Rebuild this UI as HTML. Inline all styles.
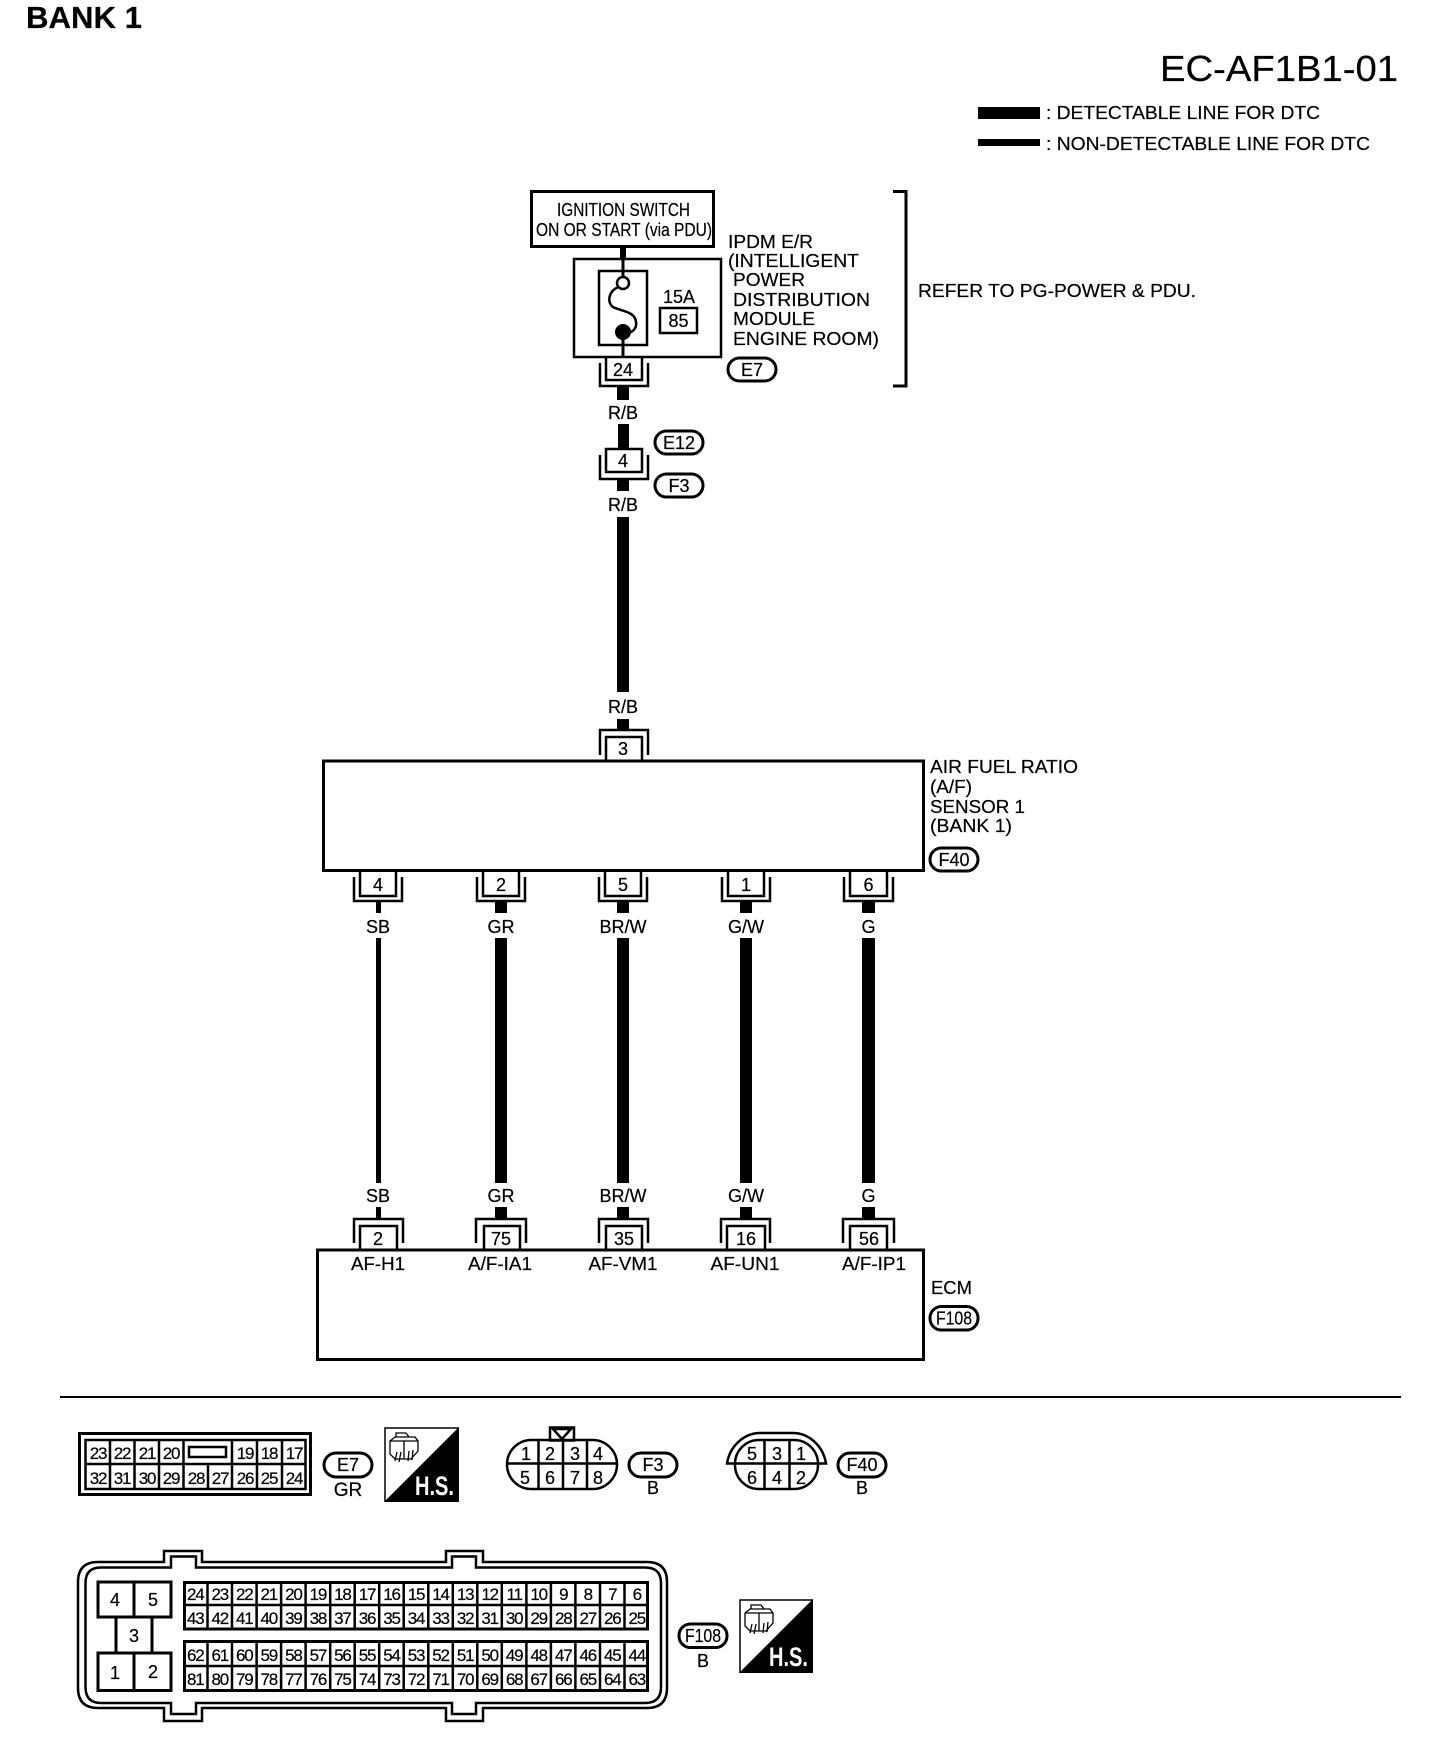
<!DOCTYPE html>
<html lang="en">
<head>
<meta charset="utf-8">
<title>BANK 1 EC-AF1B1-01</title>
<style>
html,body{margin:0;padding:0;background:#fff;width:1440px;height:1764px;overflow:hidden}
svg{display:block}
text{font-family:"Liberation Sans",sans-serif;font-size:18px;fill:#000;stroke:#000;stroke-width:.2px}
.m{text-anchor:middle}
.n{text-anchor:middle;font-size:17px;letter-spacing:-1.2px}
.s{fill:none;stroke:#000;stroke-width:2.5}
.p{fill:#fff;stroke:#000;stroke-width:3}
.w{fill:#000}
.h{font-size:27px;font-weight:bold;fill:#fff;stroke:none}
</style>
</head>
<body>
<svg xmlns="http://www.w3.org/2000/svg" width="1440" height="1764" viewBox="0 0 1440 1764">
<rect width="1440" height="1764" fill="#fff"/>

<!-- Titles and legend -->
<text x="26" y="28" style="font-size:31px;font-weight:bold" textLength="116" lengthAdjust="spacingAndGlyphs">BANK 1</text>
<text x="1160" y="81" style="font-size:36px" textLength="238" lengthAdjust="spacingAndGlyphs">EC-AF1B1-01</text>
<rect class="w" x="978" y="107" width="62" height="12"/>
<rect class="w" x="978" y="139" width="62" height="7"/>
<text x="1046" y="119" textLength="274" lengthAdjust="spacingAndGlyphs">: DETECTABLE LINE FOR DTC</text>
<text x="1046" y="150" textLength="324" lengthAdjust="spacingAndGlyphs">: NON-DETECTABLE LINE FOR DTC</text>

<!-- Ignition switch -->
<rect x="531.500" y="191.500" width="182" height="55" fill="#fff" stroke="#000" stroke-width="3"/>
<text x="557" y="216" textLength="133" lengthAdjust="spacingAndGlyphs">IGNITION SWITCH</text>
<text x="536" y="236" textLength="176" lengthAdjust="spacingAndGlyphs">ON OR START (via PDU)</text>
<rect class="w" x="620" y="248" width="6" height="11"/>

<!-- IPDM -->
<rect class="s" x="574" y="259" width="147" height="98" style="fill:#fff"/>
<rect class="s" x="599" y="271" width="48" height="74"/>
<rect class="w" x="621.500" y="258" width="3" height="20"/>
<circle cx="623" cy="283" r="6" fill="#fff" stroke="#000" stroke-width="2.500"/>
<path class="s" d="M618.500 287 C608 291,607 303,613 307 C620 311,635 311,636 322 C637 328,633 332,628 333"/>
<circle cx="623" cy="332" r="8" fill="#000"/>
<rect class="w" x="621.500" y="332" width="3" height="26"/>
<text class="m" x="679" y="303">15A</text>
<rect class="s" x="660" y="308" width="37" height="25"/>
<text class="m" x="678.500" y="327">85</text>
<text x="728" y="248" textLength="85" lengthAdjust="spacingAndGlyphs">IPDM E/R</text>
<text x="728" y="267" textLength="131" lengthAdjust="spacingAndGlyphs">(INTELLIGENT</text>
<text x="733" y="286" textLength="72" lengthAdjust="spacingAndGlyphs">POWER</text>
<text x="733" y="306" textLength="137" lengthAdjust="spacingAndGlyphs">DISTRIBUTION</text>
<text x="733" y="325" textLength="82" lengthAdjust="spacingAndGlyphs">MODULE</text>
<text x="733" y="345" textLength="146" lengthAdjust="spacingAndGlyphs">ENGINE ROOM)</text>

<!-- Bracket -->
<path d="M893 191.500 H906 V386 H893" fill="none" stroke="#000" stroke-width="3"/>
<text x="918" y="297" textLength="278" lengthAdjust="spacingAndGlyphs">REFER TO PG-POWER &amp; PDU.</text>

<!-- Connector 24 -->
<path class="s" d="M606 357 V380 H642 V357"/>
<path class="s" d="M600 363 V386 H648 V363"/>
<text class="m" x="623" y="376">24</text>
<rect class="p" x="728" y="358" width="48" height="23" rx="11.500"/>
<text class="m" x="752" y="376">E7</text>
<rect class="w" x="617" y="387" width="12" height="13"/>
<text class="m" x="623" y="419">R/B</text>
<rect class="w" x="618" y="424" width="11" height="24"/>

<!-- Connector 4 -->
<rect class="s" x="606" y="449" width="36" height="23"/>
<path class="s" d="M600 455 V479 H648 V455"/>
<text class="m" x="623" y="467">4</text>
<rect class="p" x="655" y="431" width="48" height="23" rx="11.500"/>
<text class="m" x="679" y="449">E12</text>
<rect class="p" x="655" y="474" width="48" height="23" rx="11.500"/>
<text class="m" x="679" y="492">F3</text>
<rect class="w" x="617" y="480" width="12" height="11"/>
<text class="m" x="623" y="511">R/B</text>
<rect class="w" x="617" y="517" width="12" height="175"/>
<text class="m" x="623" y="713">R/B</text>
<rect class="w" x="617" y="719" width="12" height="10"/>

<!-- Connector 3 -->
<path class="s" d="M600 755 V730 H648 V755"/>
<path class="s" d="M606 761 V737 H642 V761"/>
<text class="m" x="623" y="755">3</text>

<!-- Sensor -->
<rect x="323.500" y="761" width="600" height="109.500" fill="none" stroke="#000" stroke-width="3"/>
<text x="930" y="773" textLength="148" lengthAdjust="spacingAndGlyphs">AIR FUEL RATIO</text>
<text x="930" y="793" textLength="42" lengthAdjust="spacingAndGlyphs">(A/F)</text>
<text x="930" y="813" textLength="95" lengthAdjust="spacingAndGlyphs">SENSOR 1</text>
<text x="930" y="832" textLength="82" lengthAdjust="spacingAndGlyphs">(BANK 1)</text>
<rect class="p" x="930" y="848" width="48" height="23" rx="11.500"/>
<text class="m" x="954" y="866">F40</text>

<!-- Sensor lower connectors -->
<path class="s" d="M360 871 V896 H396 V871"/><path class="s" d="M354 877 V901 H402 V877"/>
<path class="s" d="M483 871 V896 H519 V871"/><path class="s" d="M477 877 V901 H525 V877"/>
<path class="s" d="M605 871 V896 H641 V871"/><path class="s" d="M599 877 V901 H647 V877"/>
<path class="s" d="M728 871 V896 H764 V871"/><path class="s" d="M722 877 V901 H770 V877"/>
<path class="s" d="M850 871 V896 H887 V871"/><path class="s" d="M844 877 V901 H893 V877"/>
<text class="m" x="378" y="891">4</text>
<text class="m" x="501" y="891">2</text>
<text class="m" x="623" y="891">5</text>
<text class="m" x="746" y="891">1</text>
<text class="m" x="868.500" y="891">6</text>

<!-- Wires -->
<rect class="w" x="376" y="902" width="5" height="11"/>
<rect class="w" x="495" y="902" width="12" height="11"/>
<rect class="w" x="617" y="902" width="12" height="11"/>
<rect class="w" x="740" y="902" width="12" height="11"/>
<rect class="w" x="862" y="902" width="13" height="11"/>
<text class="m" x="378" y="933">SB</text>
<text class="m" x="501" y="933">GR</text>
<text class="m" x="623" y="933">BR/W</text>
<text class="m" x="746" y="933">G/W</text>
<text class="m" x="868.500" y="933">G</text>
<rect class="w" x="376" y="938" width="5" height="245"/>
<rect class="w" x="495" y="938" width="12" height="245"/>
<rect class="w" x="617" y="938" width="12" height="245"/>
<rect class="w" x="740" y="938" width="12" height="245"/>
<rect class="w" x="862" y="938" width="13" height="245"/>
<text class="m" x="378" y="1202">SB</text>
<text class="m" x="501" y="1202">GR</text>
<text class="m" x="623" y="1202">BR/W</text>
<text class="m" x="746" y="1202">G/W</text>
<text class="m" x="868.500" y="1202">G</text>
<rect class="w" x="376" y="1207" width="5" height="11"/>
<rect class="w" x="495" y="1207" width="12" height="11"/>
<rect class="w" x="617" y="1207" width="12" height="11"/>
<rect class="w" x="740" y="1207" width="12" height="11"/>
<rect class="w" x="862" y="1207" width="13" height="11"/>

<!-- ECM connectors -->
<path class="s" d="M354 1243 V1219 H403 V1243"/><path class="s" d="M360 1250 V1226 H397 V1250"/>
<path class="s" d="M476 1243 V1219 H526 V1243"/><path class="s" d="M484 1250 V1226 H520 V1250"/>
<path class="s" d="M599 1243 V1219 H648 V1243"/><path class="s" d="M606 1250 V1226 H642 V1250"/>
<path class="s" d="M721 1243 V1219 H770 V1243"/><path class="s" d="M727 1250 V1226 H765 V1250"/>
<path class="s" d="M843 1243 V1219 H894 V1243"/><path class="s" d="M850 1250 V1226 H887 V1250"/>
<text class="m" x="378" y="1245">2</text>
<text class="m" x="501" y="1245">75</text>
<text class="m" x="624" y="1245">35</text>
<text class="m" x="746" y="1245">16</text>
<text class="m" x="869" y="1245">56</text>

<!-- ECM -->
<rect x="317.500" y="1250" width="606" height="109.500" fill="none" stroke="#000" stroke-width="3"/>
<text class="m" x="378" y="1270" textLength="54" lengthAdjust="spacingAndGlyphs">AF-H1</text>
<text class="m" x="500" y="1270" textLength="64" lengthAdjust="spacingAndGlyphs">A/F-IA1</text>
<text class="m" x="623" y="1270" textLength="69" lengthAdjust="spacingAndGlyphs">AF-VM1</text>
<text class="m" x="745" y="1270" textLength="69" lengthAdjust="spacingAndGlyphs">AF-UN1</text>
<text class="m" x="874" y="1270" textLength="64" lengthAdjust="spacingAndGlyphs">A/F-IP1</text>
<text x="931" y="1294" textLength="41" lengthAdjust="spacingAndGlyphs">ECM</text>
<rect class="p" x="930" y="1306.500" width="48" height="23.500" rx="11.500"/>
<text class="m" x="954" y="1324.500" textLength="36" lengthAdjust="spacingAndGlyphs">F108</text>

<!-- Separator -->
<rect class="w" x="60" y="1396" width="1341" height="2"/>

<!-- E7 connector -->
<rect x="79.500" y="1433.500" width="231" height="61" fill="none" stroke="#000" stroke-width="3"/>
<rect x="85.500" y="1440" width="220" height="49" fill="none" stroke="#000" stroke-width="2.500"/>
<path d="M85 1464 H306 M110 1440 V1489 M134.500 1440 V1489 M159 1440 V1489 M183.500 1440 V1489 M232 1440 V1489 M257 1440 V1489 M282 1440 V1489 M208 1464 V1489" fill="none" stroke="#000" stroke-width="2.500"/>
<rect x="189" y="1447" width="37" height="10" fill="none" stroke="#000" stroke-width="2.500"/>
<text class="n" x="98" y="1459">23</text><text class="n" x="122" y="1459">22</text><text class="n" x="147" y="1459">21</text><text class="n" x="171" y="1459">20</text><text class="n" x="245" y="1459">19</text><text class="n" x="269" y="1459">18</text><text class="n" x="294" y="1459">17</text>
<text class="n" x="98" y="1484">32</text><text class="n" x="122" y="1484">31</text><text class="n" x="147" y="1484">30</text><text class="n" x="171" y="1484">29</text><text class="n" x="196" y="1484">28</text><text class="n" x="220" y="1484">27</text><text class="n" x="245" y="1484">26</text><text class="n" x="269" y="1484">25</text><text class="n" x="294" y="1484">24</text>
<rect class="p" x="324" y="1453" width="48" height="24" rx="12"/>
<text class="m" x="348" y="1471">E7</text>
<text class="m" x="348" y="1496" style="font-size:19px">GR</text>

<!-- H.S. icon 1 -->
<rect x="385" y="1428" width="73" height="73" fill="#fff" stroke="#000" stroke-width="1.500"/>
<polygon points="459,1427 459,1502 384,1502" fill="#000"/>
<path d="M390 1441 L395 1437 H415 L418 1441 V1451 L411 1459 H395 L390 1454 Z M390 1441 H418 M404 1441 V1459 M396 1437 V1433 H406 L409 1437 M397 1452 L395 1461 M401 1452 L399 1462 M409 1451 L408 1461 M413 1450 L412 1460" fill="none" stroke="#000" stroke-width="1.300"/>
<text class="h" x="415" y="1495" textLength="39" lengthAdjust="spacingAndGlyphs">H.S.</text>

<!-- F3 connector -->
<rect x="550" y="1427.500" width="24" height="13" fill="#fff" stroke="#000" stroke-width="2.500"/>
<polygon points="553,1429 571,1429 562,1439" fill="#fff" stroke="#000" stroke-width="2.500"/>
<rect x="507" y="1440" width="110" height="49" rx="24.500" fill="none" stroke="#000" stroke-width="2.500"/>
<path d="M507 1463.500 H617 M538.500 1440 V1489 M563 1440 V1489 M587 1440 V1489" fill="none" stroke="#000" stroke-width="2.500"/>
<text class="m" x="526" y="1460">1</text><text class="m" x="550" y="1460">2</text><text class="m" x="575" y="1460">3</text><text class="m" x="598" y="1460">4</text>
<text class="m" x="525" y="1484">5</text><text class="m" x="550" y="1484">6</text><text class="m" x="575" y="1484">7</text><text class="m" x="598" y="1484">8</text>
<rect class="p" x="629" y="1453" width="48" height="24" rx="12"/>
<text class="m" x="653" y="1471">F3</text>
<text class="m" x="653" y="1494">B</text>

<!-- F40 connector -->
<path d="M727 1463.500 C730 1445,745 1433,760 1433 H793 C808 1433,823 1445,826 1463.500 Z" fill="none" stroke="#000" stroke-width="2.500"/>
<rect x="735" y="1440" width="83" height="49" rx="24" fill="#fff" stroke="#000" stroke-width="2.500"/>
<path d="M735 1463.500 H818 M764.500 1440 V1489 M789.500 1440 V1489" fill="none" stroke="#000" stroke-width="2.500"/>
<text class="m" x="752" y="1460">5</text><text class="m" x="777" y="1460">3</text><text class="m" x="801" y="1460">1</text>
<text class="m" x="752" y="1484">6</text><text class="m" x="777" y="1484">4</text><text class="m" x="801" y="1484">2</text>
<rect class="p" x="838" y="1453" width="48" height="24" rx="12"/>
<text class="m" x="862" y="1471">F40</text>
<text class="m" x="862" y="1494">B</text>

<!-- F108 (ECM) connector -->
<path d="M98 1562 H164 V1551 H202 V1562 H446 V1551 H483 V1562 H647 Q667 1562 667 1582 V1688 Q667 1708 647 1708 H483 V1721 H446 V1708 H202 V1721 H164 V1708 H98 Q78 1708 78 1688 V1582 Q78 1562 98 1562 Z" fill="none" stroke="#000" stroke-width="2.500"/>
<path d="M101 1567.500 H171 V1556.500 H196 V1567.500 H452 V1556.500 H476 V1567.500 H645 Q661 1567.500 661 1583 V1687 Q661 1703 645 1703 H476 V1714 H452 V1703 H196 V1714 H171 V1703 H101 Q85.500 1703 85.500 1687 V1583 Q85.500 1567.500 101 1567.500 Z" fill="none" stroke="#000" stroke-width="2.500"/>
<path d="M98 1582 H171 V1617 H98 Z M134 1582 V1617 M98 1653 H171 V1690.500 H98 Z M134 1653 V1690.500 M116 1617 V1653 M152 1617 V1653" fill="none" stroke="#000" stroke-width="3"/>
<text class="m" x="115" y="1606">4</text><text class="m" x="153" y="1606">5</text><text class="m" x="134" y="1642">3</text><text class="m" x="115" y="1679">1</text><text class="m" x="153" y="1678">2</text>

<rect x="184.500" y="1582.500" width="463" height="46.500" fill="none" stroke="#000" stroke-width="3"/>
<rect x="184.500" y="1641.500" width="463" height="49" fill="none" stroke="#000" stroke-width="3"/>
<path d="M184 1605 H648 M184 1666 H648 M207.500 1582 V1629 M232 1582 V1629 M256.600 1582 V1629 M281.100 1582 V1629 M305.600 1582 V1629 M330.200 1582 V1629 M354.700 1582 V1629 M379.200 1582 V1629 M403.700 1582 V1629 M428.300 1582 V1629 M452.800 1582 V1629 M477.300 1582 V1629 M501.800 1582 V1629 M526.400 1582 V1629 M550.900 1582 V1629 M575.400 1582 V1629 M600 1582 V1629 M624.500 1582 V1629 M207.500 1641 V1691 M232 1641 V1691 M256.600 1641 V1691 M281.100 1641 V1691 M305.600 1641 V1691 M330.200 1641 V1691 M354.700 1641 V1691 M379.200 1641 V1691 M403.700 1641 V1691 M428.300 1641 V1691 M452.800 1641 V1691 M477.300 1641 V1691 M501.800 1641 V1691 M526.400 1641 V1691 M550.900 1641 V1691 M575.400 1641 V1691 M600 1641 V1691 M624.500 1641 V1691" fill="none" stroke="#000" stroke-width="2.500"/>

<g>
<text class="n" x="195.300" y="1600">24</text><text class="n" x="219.800" y="1600">23</text><text class="n" x="244.300" y="1600">22</text><text class="n" x="268.800" y="1600">21</text><text class="n" x="293.400" y="1600">20</text><text class="n" x="317.900" y="1600">19</text><text class="n" x="342.400" y="1600">18</text><text class="n" x="367" y="1600">17</text><text class="n" x="391.500" y="1600">16</text><text class="n" x="416" y="1600">15</text><text class="n" x="440.500" y="1600">14</text><text class="n" x="465.100" y="1600">13</text><text class="n" x="489.600" y="1600">12</text><text class="n" x="514.100" y="1600">11</text><text class="n" x="538.600" y="1600">10</text><text class="n" x="563.200" y="1600">9</text><text class="n" x="587.700" y="1600">8</text><text class="n" x="612.200" y="1600">7</text><text class="n" x="636.800" y="1600">6</text>
</g>
<g>
<text class="n" x="195.300" y="1624">43</text><text class="n" x="219.800" y="1624">42</text><text class="n" x="244.300" y="1624">41</text><text class="n" x="268.800" y="1624">40</text><text class="n" x="293.400" y="1624">39</text><text class="n" x="317.900" y="1624">38</text><text class="n" x="342.400" y="1624">37</text><text class="n" x="367" y="1624">36</text><text class="n" x="391.500" y="1624">35</text><text class="n" x="416" y="1624">34</text><text class="n" x="440.500" y="1624">33</text><text class="n" x="465.100" y="1624">32</text><text class="n" x="489.600" y="1624">31</text><text class="n" x="514.100" y="1624">30</text><text class="n" x="538.600" y="1624">29</text><text class="n" x="563.200" y="1624">28</text><text class="n" x="587.700" y="1624">27</text><text class="n" x="612.200" y="1624">26</text><text class="n" x="636.800" y="1624">25</text>
</g>
<g>
<text class="n" x="195.300" y="1661">62</text><text class="n" x="219.800" y="1661">61</text><text class="n" x="244.300" y="1661">60</text><text class="n" x="268.800" y="1661">59</text><text class="n" x="293.400" y="1661">58</text><text class="n" x="317.900" y="1661">57</text><text class="n" x="342.400" y="1661">56</text><text class="n" x="367" y="1661">55</text><text class="n" x="391.500" y="1661">54</text><text class="n" x="416" y="1661">53</text><text class="n" x="440.500" y="1661">52</text><text class="n" x="465.100" y="1661">51</text><text class="n" x="489.600" y="1661">50</text><text class="n" x="514.100" y="1661">49</text><text class="n" x="538.600" y="1661">48</text><text class="n" x="563.200" y="1661">47</text><text class="n" x="587.700" y="1661">46</text><text class="n" x="612.200" y="1661">45</text><text class="n" x="636.800" y="1661">44</text>
</g>
<g>
<text class="n" x="195.300" y="1685">81</text><text class="n" x="219.800" y="1685">80</text><text class="n" x="244.300" y="1685">79</text><text class="n" x="268.800" y="1685">78</text><text class="n" x="293.400" y="1685">77</text><text class="n" x="317.900" y="1685">76</text><text class="n" x="342.400" y="1685">75</text><text class="n" x="367" y="1685">74</text><text class="n" x="391.500" y="1685">73</text><text class="n" x="416" y="1685">72</text><text class="n" x="440.500" y="1685">71</text><text class="n" x="465.100" y="1685">70</text><text class="n" x="489.600" y="1685">69</text><text class="n" x="514.100" y="1685">68</text><text class="n" x="538.600" y="1685">67</text><text class="n" x="563.200" y="1685">66</text><text class="n" x="587.700" y="1685">65</text><text class="n" x="612.200" y="1685">64</text><text class="n" x="636.800" y="1685">63</text>
</g>

<rect class="p" x="679" y="1624" width="48" height="23.500" rx="11.500"/>
<text class="m" x="703" y="1642" textLength="36" lengthAdjust="spacingAndGlyphs">F108</text>
<text class="m" x="703" y="1667">B</text>

<!-- H.S. icon 2 -->
<rect x="740" y="1600" width="72" height="72" fill="#fff" stroke="#000" stroke-width="1.500"/>
<polygon points="813,1599 813,1673 739,1673" fill="#000"/>
<path d="M745 1613 L750 1609 H770 L773 1613 V1623 L766 1631 H750 L745 1626 Z M745 1613 H773 M759 1613 V1631 M751 1609 V1605 H761 L764 1609 M752 1624 L750 1633 M756 1624 L754 1634 M764 1623 L763 1633 M768 1622 L767 1632" fill="none" stroke="#000" stroke-width="1.300"/>
<text class="h" x="769" y="1666" textLength="39" lengthAdjust="spacingAndGlyphs">H.S.</text>
</svg>
</body>
</html>
